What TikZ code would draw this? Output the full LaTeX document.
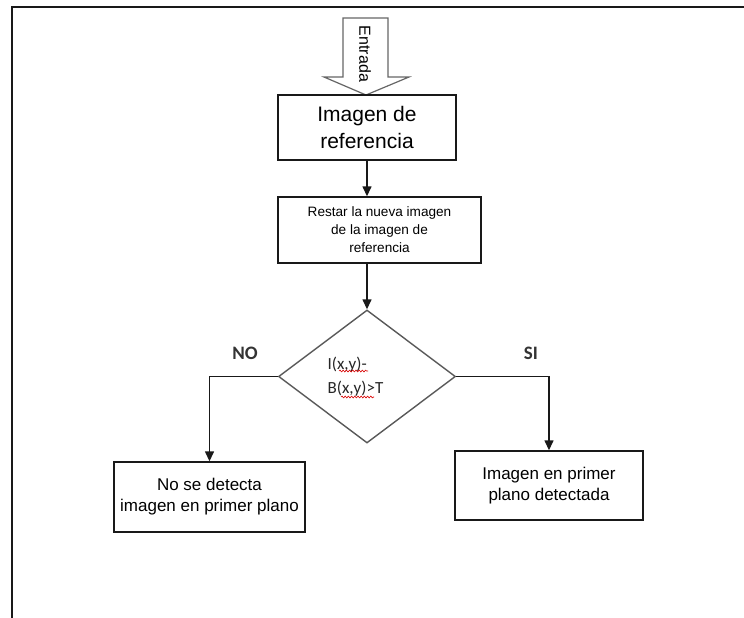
\documentclass[tikz,border=0pt]{standalone}
\usepackage{fontspec}
\setmainfont{Liberation Sans}
\newfontfamily\calibri{Carlito}
\usetikzlibrary{arrows.meta,shapes.geometric,decorations.pathmorphing}
\begin{document}
\begin{tikzpicture}[x=1pt,y=-1pt,
  box/.style={draw=black!90,line width=1.4pt,rectangle,inner sep=0pt,align=center},
  decision/.style={draw=black!65,line width=1.4pt,diamond,inner sep=0pt},
  flow/.style={draw=black!90,line width=1.4pt,-{Triangle[length=10pt,width=9pt]}},
  branch/.style={font=\calibri\bfseries\fontsize{19}{22}\selectfont,text=black!80},
  squiggle/.style={draw=red!85!black,line width=0.6pt,decorate,
    decoration={snake,segment length=3.2pt,amplitude=0.9pt}}]
\useasboundingbox (0,0) rectangle (744,618);
% page frame
\draw[line width=2.2pt,black!90] (744,7) -- (12,7) -- (12,618);

% input block arrow
\draw[line width=1.2pt,draw=black!60,fill=white]
  (343,18) -- (388,18) -- (388,77) -- (409,77) -- (366,95) -- (324,77) -- (343,77) -- cycle;
\node[rotate=-90,font=\fontsize{16}{18}\selectfont,inner sep=0pt] (entrada) at (365,54) {Entrada};

% process boxes
\node[box,minimum width=178pt,minimum height=65pt,font=\fontsize{21}{27}\selectfont]
  (ref) at (367,127.5) {Imagen de\\referencia};
\node[box,minimum width=203pt,minimum height=66pt,font=\fontsize{13.6}{18}\selectfont]
  (resta) at (379.5,230) {Restar la nueva imagen\\de la imagen de\\referencia};

% decision
\node[decision,minimum width=177pt,minimum height=133pt] (dec) at (367,376.5) {};
\node[align=left,inner sep=0pt,font=\calibri\fontsize{17}{24}\selectfont,text=black!85]
  (cond) at (355.5,377) {I(x,y)-\\B(x,y)>T};
\draw[squiggle] (339,371) -- (368,371);
\draw[squiggle] (341,397) -- (374,397);

% outcomes
\node[box,minimum width=191pt,minimum height=70pt,font=\fontsize{17}{21}\selectfont]
  (nodet) at (209.5,497) {No se detecta\\imagen en primer plano};
\node[box,minimum width=188pt,minimum height=69pt,font=\fontsize{17}{21}\selectfont]
  (det) at (549,485.5) {Imagen en primer\\plano detectada};

% connectors
\draw[flow] (ref.south) -- (ref.south |- resta.north);
\draw[flow] (dec.north |- resta.south) -- (dec.north);
\draw[flow] (dec.west) -| (nodet.north);
\draw[flow] (dec.east) -| (det.north);

% branch labels
\node[branch] (no) at (245,353) {NO};
\node[branch] (si) at (531,353) {SI};
\end{tikzpicture}
\end{document}
